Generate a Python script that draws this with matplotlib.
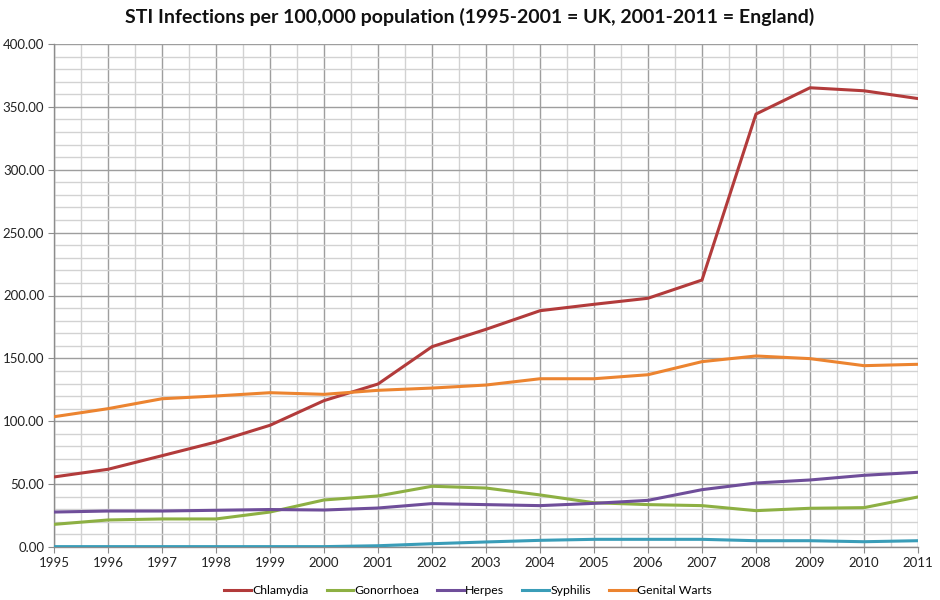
import matplotlib
matplotlib.use("Agg")
import matplotlib.pyplot as plt
from matplotlib.ticker import MultipleLocator, FormatStrFormatter

years = list(range(1995, 2012))
chlamydia = [55.7, 61.8, 72.6, 83.5, 96.8, 116.4, 129.6, 159.3, 173.1, 187.9, 193.0, 197.8, 212.3, 344.3, 365.2, 362.8, 356.6]
gonorrhoea = [18.0, 21.5, 22.3, 22.3, 27.8, 37.4, 40.6, 48.3, 46.9, 41.4, 35.2, 33.7, 32.9, 28.9, 30.8, 31.3, 39.8]
herpes = [27.8, 28.6, 28.6, 29.2, 29.8, 29.4, 31.0, 34.5, 33.7, 32.9, 34.7, 37.1, 45.6, 50.9, 53.3, 57.0, 59.4]
syphilis = [0.3, 0.3, 0.3, 0.3, 0.3, 0.3, 1.0, 2.6, 4.0, 5.3, 6.1, 6.1, 6.1, 5.0, 5.0, 4.2, 5.0]
genital_warts = [103.6, 110.0, 117.9, 120.1, 122.7, 121.4, 124.6, 126.4, 128.8, 133.8, 133.8, 137.0, 147.4, 151.9, 149.8, 144.2, 145.3]

series_names = ["Chlamydia", "Gonorrhoea", "Herpes", "Syphilis", "Genital Warts"]
series_values = [chlamydia, gonorrhoea, herpes, syphilis, genital_warts]
colors = ["#B23B3B", "#8DB043", "#6F4E9A", "#3A9DB8", "#EC8430"]

title = "STI Infections per 100,000 population (1995-2001 = UK, 2001-2011 = England)"

plt.rcParams['font.family'] = ['Lato', 'DejaVu Sans']

fig = plt.figure(figsize=(9.4, 6.0), dpi=100)
ax = fig.add_axes([54/940, 53/600, 864/940, 503/600])

for name, vals, c in zip(series_names, series_values, colors):
    ax.plot(years, vals, color=c, lw=2.2, label=name, solid_joinstyle='round', zorder=3)

ax.set_xlim(1995, 2011)
ax.set_ylim(0, 400)
ax.xaxis.set_major_locator(MultipleLocator(1))
ax.xaxis.set_minor_locator(MultipleLocator(0.5))
ax.yaxis.set_major_locator(MultipleLocator(50))
ax.yaxis.set_minor_locator(MultipleLocator(10))
ax.yaxis.set_major_formatter(FormatStrFormatter('%.2f'))

ax.grid(which='major', color='#9E9E9E', lw=1.0, zorder=0)
ax.grid(which='minor', color='#D2D2D2', lw=1.0, zorder=0)
ax.set_axisbelow(True)

for s in ['top', 'right']:
    ax.spines[s].set_visible(False)
for s in ['left', 'bottom']:
    ax.spines[s].set_color('#8C8C8C')
    ax.spines[s].set_linewidth(1.0)

ax.tick_params(which='major', length=4, color='#8C8C8C', labelsize=9.5, pad=3, labelcolor='#222222')
ax.tick_params(which='minor', length=0)

fig.text(470/940, 1 - 17/600, title, ha='center', va='center', fontsize=14, fontweight='bold', color='#111111')

handles, labels = ax.get_legend_handles_labels()
fig.legend(handles, labels, loc='center', bbox_to_anchor=(468/940, 1 - 591/600), ncol=5,
           frameon=False, fontsize=8.8, handlelength=2.2, handletextpad=0.1, columnspacing=1.45)

fig.savefig("out.png", dpi=100)
